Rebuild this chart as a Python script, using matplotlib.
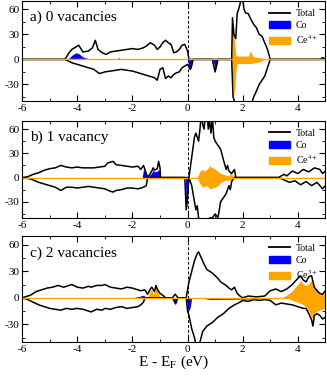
import numpy as np
import matplotlib
matplotlib.use("Agg")
import matplotlib.pyplot as plt
from matplotlib.lines import Line2D
from matplotlib.patches import Patch
from matplotlib.ticker import MultipleLocator

plt.rcParams['font.family'] = ['Liberation Serif', 'DejaVu Serif']
plt.rcParams['mathtext.fontset'] = 'stix'
plt.rcParams['axes.unicode_minus'] = False

BLUE = '#0000ff'
ORANGE = '#ffa500'

# ---- panel a) 0 vacancies ----
a_up_e = [-6, -4.45, -4.3, -4.2, -4.05, -3.95, -3.8, -3.6, -3.45, -3.35, -3.25, -3.1, -2.95, -2.8,
          -2.6, -2.4, -2.2, -2.0, -1.8, -1.6, -1.5, -1.35, -1.2, -1.1, -1.0, -0.9, -0.8, -0.7,
          -0.6, -0.5, -0.4, -0.3, -0.2, -0.1, 0.0, 0.05, 1.6, 1.63, 1.68, 1.75, 1.8, 1.85, 1.9,
          1.95, 2.0, 2.05, 2.1, 2.2, 2.3, 2.4, 2.5, 2.6, 2.7, 2.8, 2.9, 3.0, 4.8, 4.9, 5]
a_up = [0, 0, 8, 12, 15, 17, 9, 10, 14, 23, 12, 8, 6, 9, 10, 11, 12, 13, 12, 14, 16, 20, 17, 12,
        15, 20, 23, 20, 18, 8, 9, 12, 17, 18, 10, 0, 0, 50, 30, 25, 55, 60, 66, 75, 72, 60, 56,
        55, 48, 42, 38, 30, 28, 20, 12, 0, 0, 2, 1]
a_dn_e = [-6, -4.45, -4.2, -4.0, -3.8, -3.6, -3.4, -3.2, -3.0, -2.8, -2.6, -2.4, -2.2, -2.0,
          -1.8, -1.6, -1.4, -1.2, -1.1, -1.0, -0.9, -0.8, -0.7, -0.6, -0.5, -0.4, -0.3, -0.2,
          -0.1, 0.0, 0.1, 0.2, 0.9, 0.95, 1.0, 1.05, 1.1, 1.6, 1.65, 1.75, 1.85, 2.0, 2.2, 2.3,
          2.4, 2.5, 2.6, 2.7, 2.8, 2.9, 3.0, 5]
a_dn = [0, 0, -4, -6, -8, -10, -12, -17, -15, -14, -13, -12, -13, -14, -16, -18, -20, -22, -25,
        -12, -10, -23, -20, -22, -18, -16, -15, -10, -8, -6, -12, 0, 0, -8, -15, -8, 0, 0, -45,
        -55, -55, -60, -55, -55, -45, -38, -30, -25, -20, -10, 0, 0]
a_co_e = [-6, -4.35, -4.2, -4.05, -3.95, -3.8, -3.6, -3.4, -2.6, -2.5, -2.4, -1.0, -0.9, -0.05,
          0.0, 0.05, 0.1, 0.15, 0.2, 0.9, 0.95, 1.0, 1.05, 1.1, 5]
a_co = [0, 0, 5, 8, 7, 3, 1, 0, 0, 2, 0, 0, 1, 0, 0, -10, -12, -8, 0, 0, -5, -12, -6, 0, 0]
a_ce_e = [-6, 1.6, 1.63, 1.66, 1.7, 1.75, 1.8, 2.0, 2.2, 2.25, 2.3, 2.35, 2.4, 2.6, 2.8, 3.0, 5]
a_ce = [0, 0, 30, 45, 25, 6, 4, 4, 4, 8, 10, 5, 3, 2, 1, 0, 0]
a_ce_dn_e = [-6, 1.6, 1.65, 1.7, 1.75, 1.8, 2.0, 2.3, 2.6, 2.8, 5]
a_ce_dn = [0, 0, -30, -45, -15, -5, -5, -5, -3, 0, 0]

# ---- panel b) 1 vacancy ----
b_up_e = [-6, -5.8, -5.6, -5.4, -5.2, -5.0, -4.8, -4.6, -4.4, -4.2, -4.0, -3.8, -3.6, -3.4,
          -3.2, -3.0, -2.9, -2.8, -2.7, -2.6, -2.4, -2.2, -2.0, -1.8, -1.7, -1.6, -1.5, -1.45,
          -1.3, -1.25, -1.2, -1.1, -1.05, -1.0, -0.98, 0.05, 0.15, 0.25, 0.3, 0.4, 0.45, 0.5,
          0.55, 0.6, 0.65, 0.7, 0.75, 0.8, 0.85, 0.9, 0.95, 1.0, 1.1, 1.2, 1.3, 1.4, 1.45,
          1.5, 1.6, 1.7, 1.75, 3.3, 3.5, 3.6, 3.8, 4.0, 4.2, 4.4, 4.6, 4.8, 4.9, 5]
b_up = [0, 1, 4, 6, 9, 11, 12, 15, 13, 12, 13, 12, 12, 12, 13, 14, 18, 19, 20, 16, 15, 14,
        13, 14, 10, 15, 5, 0, 8, 12, 9, 11, 20, 12, 0, 0, 25, 50, 55, 45, 60, 80, 65, 60, 80,
        85, 60, 70, 55, 75, 50, 45, 40, 35, 22, 10, 15, 8, 5, 10, 0, 0, 4, 2, 8, 5, 10, 7,
        12, 10, 5, 8]
b_dn_e = [-6, -5.8, -5.6, -5.4, -5.2, -5.0, -4.8, -4.6, -4.4, -4.2, -4.0, -3.8, -3.6, -3.4,
          -3.2, -3.0, -2.8, -2.7, -2.6, -2.4, -2.2, -2.0, -1.8, -1.6, -1.5, -1.45, -0.1, -0.05,
          0.0, 0.05, 0.15, 0.25, 0.3, 0.35, 0.4, 0.5, 0.6, 0.7, 0.8, 0.9, 1.0, 1.1, 1.2, 1.3,
          1.4, 1.5, 1.55, 1.6, 1.7, 3.3, 3.5, 3.7, 3.9, 4.1, 4.3, 4.5, 4.7, 4.9, 5]
b_dn = [0, -1, -3, -6, -8, -10, -12, -16, -12, -12, -13, -12, -11, -12, -13, -14, -17, -18,
        -16, -15, -13, -13, -14, -12, -10, 0, 0, -40, -20, 0, -10, -30, -40, -35, -50, -55,
        -60, -55, -50, -50, -45, -50, -30, -25, -20, -10, -15, -5, 0, 0, -3, -6, -4, -9, -5,
        -10, -6, -14, -10]
b_co_e = [-6, -1.65, -1.6, -1.55, -1.5, -1.45, -1.3, -1.25, -1.2, -1.1, -1.05, -1.0, -0.98,
          -0.08, -0.05, -0.02, 0.02, 0.05, 5]
b_co = [0, 0, 10, 8, 6, 0, 6, 9, 7, 8, 10, 5, 0, 0, -40, -35, -15, 0, 0]
b_ce_e = [-6, 0.35, 0.45, 0.55, 0.6, 0.7, 0.75, 0.8, 0.85, 0.9, 1.0, 1.1, 1.2, 1.3, 1.4,
          1.5, 1.55, 1.6, 1.7, 5]
b_ce = [0, 0, 8, 10, 8, 10, 12, 15, 12, 13, 10, 8, 5, 4, 3, 2, 6, 4, 0, 0]
b_ce_dn_e = [-6, 0.35, 0.45, 0.55, 0.7, 0.8, 0.9, 1.0, 1.1, 1.2, 1.4, 1.55, 1.7, 5]
b_ce_dn = [0, 0, -8, -12, -10, -14, -13, -12, -10, -6, -3, -4, 0, 0]

# ---- panel c) 2 vacancies ----
c_up_e = [-6, -5.7, -5.5, -5.3, -5.1, -4.9, -4.7, -4.5, -4.3, -4.2, -4.0, -3.8, -3.6, -3.5,
          -3.3, -3.1, -3.0, -2.8, -2.6, -2.4, -2.2, -2.0, -1.9, -1.7, -1.55, -1.45, -1.35,
          -1.3, -1.2, -1.15, -1.1, -1.0, -0.9, -0.8, -0.55, -0.45, -0.35, -0.05, 0.05, 0.15,
          0.25, 0.35, 0.4, 0.5, 0.6, 0.7, 0.8, 0.9, 1.0, 1.1, 1.2, 1.3, 1.4, 1.5, 1.6, 1.7,
          1.8, 1.9, 2.0, 2.2, 2.5, 2.8, 3.0, 3.2, 3.4, 3.6, 3.8, 4.0, 4.1, 4.2, 4.3, 4.4, 4.5,
          4.6, 4.7, 4.8, 4.9, 5]
c_up = [0, 3, 7, 9, 11, 12, 14, 12, 14, 15, 12, 11, 13, 12, 14, 14, 15, 12, 11, 10, 12, 11,
        10, 8, 9, 4, 10, 12, 7, 14, 10, 5, 3, 0, 0, 4, 0, 0, 18, 30, 42, 50, 52, 45, 38, 32,
        30, 28, 25, 22, 18, 16, 14, 11, 9, 12, 5, 2, 0, 2, 1, 2, 8, 10, 7, 10, 15, 22, 25,
        20, 18, 24, 25, 12, 8, 5, 4, 8]
c_dn_e = [-6, -5.8, -5.6, -5.4, -5.2, -5.0, -4.8, -4.6, -4.4, -4.2, -4.0, -3.8, -3.6, -3.5,
          -3.3, -3.1, -3.0, -2.8, -2.6, -2.4, -2.2, -2.0, -1.8, -1.7, -1.6, -1.55, -0.55,
          -0.45, -0.35, -0.05, 0.0, 0.05, 0.15, 0.25, 0.35, 0.45, 0.55, 0.7, 0.9, 1.1, 1.3,
          1.5, 1.7, 1.9, 2.0, 2.2, 2.4, 2.6, 2.8, 3.0, 3.2, 3.4, 3.6, 3.8, 4.0, 4.2, 4.3, 4.4,
          4.5, 4.55, 4.6, 4.7, 4.8, 4.9, 5]
c_dn = [0, -2, -5, -8, -10, -12, -13, -14, -12, -13, -12, -13, -15, -16, -13, -14, -12, -13,
        -11, -10, -12, -11, -10, -8, -5, 0, 0, -6, 0, 0, -15, -20, -35, -45, -60, -50, -38,
        -32, -28, -22, -18, -12, -8, -5, -3, -4, -2, -3, -2, -3, -8, -6, -7, -8, -10, -12,
        -12, -18, -25, -32, -20, -18, -20, -24, -22]
c_co_e = [-6, -2.0, -1.7, -1.6, -1.5, -0.55, -0.5, -0.45, -0.4, -0.35, -0.05, 0.0, 0.05,
          0.1, 0.15, 0.5, 0.8, 5]
c_co = [0, 0, 2, 3, 0, 0, -4, -8, -5, 0, 0, -12, -15, -10, 0, 0, -2, 0]
c_ce_e = [-6, -1.45, -1.35, -1.3, -1.25, -1.2, -1.15, -1.1, -1.05, -1.0, 3.4, 3.6, 3.8, 4.0,
          4.1, 4.2, 4.3, 4.4, 4.5, 4.6, 4.7, 4.8, 4.9, 5]
c_ce = [0, 0, 8, 10, 4, 6, 12, 10, 5, 0, 0, 3, 8, 15, 20, 15, 14, 16, 20, 10, 8, 5, 4, 6]
c_ce_dn_e = [-6, 3.6, 3.8, 4.0, 4.2, 4.3, 4.4, 4.5, 4.55, 4.6, 4.7, 4.8, 4.9, 5]
c_ce_dn = [0, 0, -3, -5, -8, -10, -15, -22, -25, -18, -15, -14, -13, -12]

panels = [
    ("a) 0 vacancies", "Ce$^{4+}$", a_up_e, a_up, a_dn_e, a_dn, a_co_e, a_co,
     a_ce_e, a_ce, a_ce_dn_e, a_ce_dn),
    ("b) 1 vacancy", "Ce$^{4+}$", b_up_e, b_up, b_dn_e, b_dn, b_co_e, b_co,
     b_ce_e, b_ce, b_ce_dn_e, b_ce_dn),
    ("c) 2 vacancies", "Ce$^{3+}$", c_up_e, c_up, c_dn_e, c_dn, c_co_e, c_co,
     c_ce_e, c_ce, c_ce_dn_e, c_ce_dn),
]

fig = plt.figure(figsize=(3.27, 3.77), dpi=100)
boxes = [(0.732, 0.997), (0.422, 0.679), (0.093, 0.374)]

for (bot, top), p in zip(boxes, panels):
    label, celab, ue, u, de, d, coe, co, cee, ce, cde, cd = p
    ax = fig.add_axes([0.068, bot, 0.927, top - bot])
    ax.fill_between(coe, co, 0, color=BLUE, lw=0)
    ax.fill_between(cee, ce, 0, color=ORANGE, lw=0)
    ax.fill_between(cde, cd, 0, color=ORANGE, lw=0)
    ax.plot(ue, u, color='black', lw=1.1)
    ax.plot(de, d, color='black', lw=1.1)
    ax.axhline(0, color=ORANGE, lw=1.0)
    ax.axvline(0, color='black', lw=0.7, ls=(0, (3, 2)))
    ax.set_xlim(-6, 5)
    ax.set_ylim(-50, 70)
    ax.xaxis.set_major_locator(MultipleLocator(2))
    ax.xaxis.set_minor_locator(MultipleLocator(1))
    ax.yaxis.set_major_locator(MultipleLocator(30))
    ax.yaxis.set_minor_locator(MultipleLocator(15))
    ax.tick_params(which='both', direction='in', top=True, right=True, labelsize=8,
                   pad=2)
    ax.tick_params(which='major', length=4)
    ax.tick_params(which='minor', length=2.5)
    ax.text(0.025, 0.8, label, transform=ax.transAxes, fontsize=11)
    handles = [Line2D([], [], color='black', lw=1.3),
               Patch(color=BLUE), Patch(color=ORANGE)]
    ax.legend(handles, ['Total', 'Co', celab], loc='upper right', frameon=False,
              fontsize=7, handlelength=2.2, handletextpad=0.6, labelspacing=0.3,
              borderaxespad=0.4)

ax.set_xlabel('E - E$_\\mathrm{F}$ (eV)', fontsize=11, labelpad=0)
fig.savefig('out.png', dpi=100)
